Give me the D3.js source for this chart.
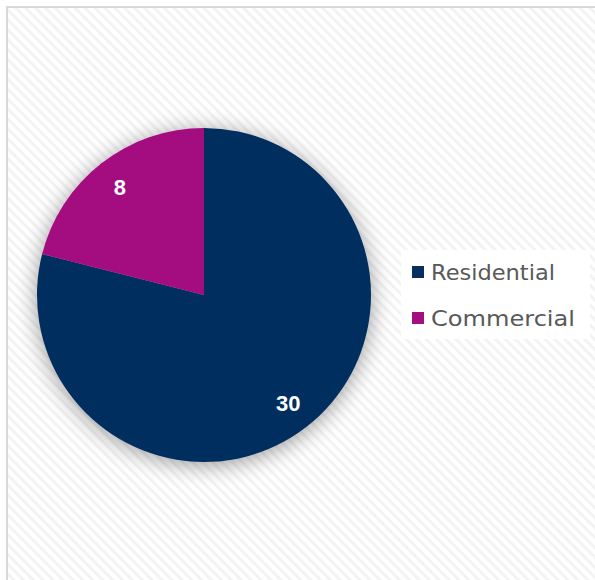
<!DOCTYPE html>
<html>
<head>
<meta charset="utf-8">
<script src="https://cdn.jsdelivr.net/npm/d3@7"></script>
<style>
  body { margin: 0; background: #fff; }
  svg { display: block; }
</style>
</head>
<body>
<svg id="chart" width="595" height="580"></svg>
<script>
// chart data
const categories = ['Residential', 'Commercial'];
const values = [30, 8];
const colors = ['#062e5f', '#a30e80'];

const width = 595, height = 580;
const svg = d3.select('#chart');
const defs = svg.append('defs');

// diagonal stripe background
const pat = defs.append('pattern')
    .attr('id', 'stripes')
    .attr('patternUnits', 'userSpaceOnUse')
    .attr('width', 7).attr('height', 7)
    .attr('patternTransform', 'rotate(45)');
pat.append('rect').attr('width', 7).attr('height', 7).attr('fill', '#ffffff');
pat.append('rect').attr('width', 7).attr('height', 3).attr('fill', '#f3f3f3');

// soft shadow around the pie
const f = defs.append('filter').attr('id', 'glow')
    .attr('x', '-30%').attr('y', '-30%').attr('width', '160%').attr('height', '160%');
f.append('feGaussianBlur').attr('in', 'SourceAlpha').attr('stdDeviation', 11).attr('result', 'b');
f.append('feOffset').attr('in', 'b').attr('dx', 0).attr('dy', 3).attr('result', 'o');
f.append('feComponentTransfer').attr('in', 'o').attr('result', 's')
    .append('feFuncA').attr('type', 'linear').attr('slope', 0.4);
const m = f.append('feMerge');
m.append('feMergeNode').attr('in', 's');
m.append('feMergeNode').attr('in', 'SourceGraphic');

svg.append('rect')
    .attr('x', 7).attr('y', 7)
    .attr('width', width).attr('height', height)
    .attr('fill', 'url(#stripes)')
    .attr('stroke', '#d9d9d9')
    .attr('stroke-width', 2);

//pie
const cx = 204, cy = 295, r = 167;
const pie = d3.pie().sort(null).value(d => d)(values);
const arc = d3.arc().innerRadius(0).outerRadius(r);
const labelArc = d3.arc().innerRadius(137).outerRadius(137);

const g = svg.append('g').attr('transform', `translate(${cx},${cy})`);

g.append('g').attr('filter', 'url(#glow)')
  .selectAll('path')
  .data(pie)
  .join('path')
    .attr('d', arc)
    .attr('fill', (d, i) => colors[i]);

g.selectAll('text')
  .data(pie)
  .join('text')
    .attr('transform', d => `translate(${labelArc.centroid(d)})`)
    .attr('text-anchor', 'middle')
    .attr('dy', '0.36em')
    .attr('fill', '#ffffff')
    .style('font', 'bold 22px "Liberation Sans", Arial, sans-serif')
    .text(d => d.data);

//legend
const lg = svg.append('g');
lg.append('rect')
    .attr('x', 401).attr('y', 250)
    .attr('width', 189).attr('height', 89)
    .attr('fill', '#ffffff');

const item = lg.selectAll('.item')
  .data(categories)
  .join('g')
    .attr('class', 'item')
    .attr('transform', (d, i) => `translate(412, ${272 + i * 46})`);

item.append('rect')
    .attr('x', 0).attr('y', -6)
    .attr('width', 12).attr('height', 12)
    .attr('fill', (d, i) => colors[i]);

// century-gothic style width, stretched from DejaVu
item.append('text')
    .attr('x', 19)
    .attr('dy', '0.36em')
    .attr('fill', '#595959')
    .style('font', '21.5px "DejaVu Sans", sans-serif')
    .attr('textLength', (d, i) => i === 0 ? 124 : 144)
    .attr('lengthAdjust', 'spacingAndGlyphs')
    .text(d => d);
</script>
</body>
</html>
